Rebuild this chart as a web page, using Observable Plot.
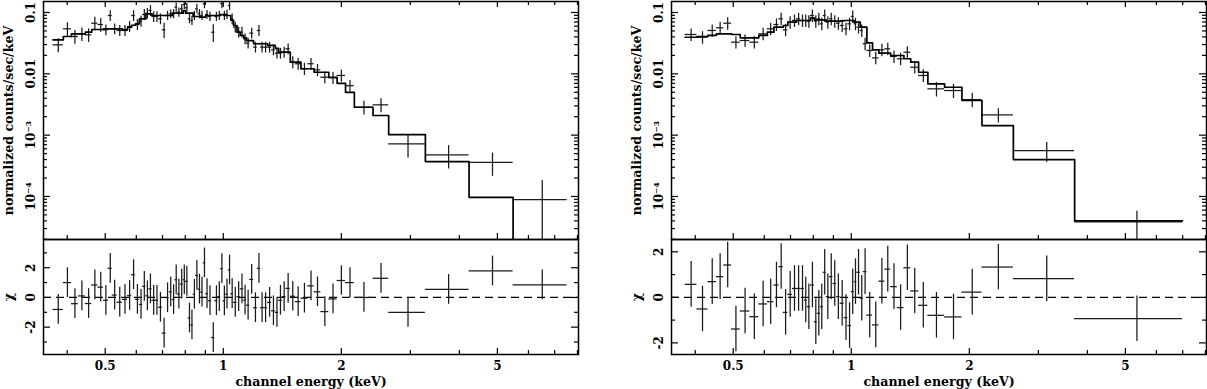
<!DOCTYPE html>
<html><head><meta charset="utf-8">
<script src="https://cdn.jsdelivr.net/npm/d3@7"></script>
<script src="https://cdn.jsdelivr.net/npm/@observablehq/plot@0.6"></script>
<style>
html,body{margin:0;padding:0;background:#fff;overflow:hidden}
#chart{position:relative;width:1207px;height:389px;background:#fff}
#chart svg{position:absolute;background:transparent;overflow:visible}
</style></head><body><div id="chart"></div>
<script>
// ---------- LEFT spectrum (bin edges in keV, flux, error, model, residual) ----------
const leftEdges = [0.368,0.391,0.410,0.427,0.445,0.462,0.479,0.495,0.509,0.521,
0.536,0.553,0.570,0.584,0.597,0.611,0.623,0.635,0.646,0.658,
0.671,0.684,0.699,0.714,0.728,0.741,0.753,0.764,0.777,0.790,
0.801,0.814,0.826,0.838,0.850,0.863,0.876,0.889,0.902,0.916,
0.934,0.952,0.969,0.985,0.999,1.014,1.030,1.045,1.062,1.084,
1.105,1.127,1.146,1.168,1.195,1.221,1.245,1.267,1.297,1.328,
1.357,1.384,1.414,1.445,1.482,1.526,1.578,1.643,1.705,1.773,
1.858,1.951,2.050,2.159,2.409,2.641,3.276,4.234,5.483,7.530];
const leftFlux = [0.0297,0.0542,0.0406,0.0449,0.0433,0.0669,0.0637,0.0522,0.0893,0.0542,
0.0509,0.0509,0.0591,0.0893,0.0637,0.0721,0.0928,0.0974,0.1078,0.0861,
0.0861,0.0789,0.0522,0.0893,0.0950,0.0952,0.1220,0.1011,0.1149,0.1351,
0.1193,0.0789,0.0741,0.0893,0.1149,0.0952,0.0893,0.1387,0.0930,0.0861,
0.0477,0.0861,0.0893,0.1387,0.0893,0.0928,0.1301,0.0789,0.0576,0.0477,
0.0477,0.0372,0.0316,0.0460,0.0272,0.0509,0.0272,0.0272,0.0272,0.0246,
0.0217,0.0217,0.0225,0.0256,0.0155,0.0146,0.0121,0.0146,0.0116,0.0088,
0.0086,0.0094,0.0064,0.00285,0.00312,0.000721,0.000477,0.000361,0.0000890];
const leftErr = [0.0077,0.0136,0.0102,0.0112,0.0108,0.0167,0.0159,0.0104,0.0179,0.0108,
0.0102,0.0102,0.0118,0.0179,0.0127,0.0144,0.0186,0.0195,0.0216,0.0172,
0.0172,0.0158,0.0145,0.0152,0.0152,0.0162,0.0207,0.0172,0.0195,0.0230,
0.0203,0.0134,0.0126,0.0152,0.0195,0.0162,0.0152,0.0236,0.0152,0.0146,
0.0154,0.0146,0.0152,0.0236,0.0152,0.0158,0.0221,0.0158,0.0115,0.0095,
0.0095,0.0074,0.0063,0.0092,0.0054,0.0102,0.0054,0.0054,0.0054,0.0049,
0.0043,0.0043,0.0045,0.0051,0.0034,0.0032,0.0027,0.0032,0.0026,0.0019,
0.0019,0.0021,0.0014,0.00071,0.0008,0.000296,0.000196,0.000148,0.0000925];
const leftModel = [0.0359,0.0406,0.0449,0.0449,0.0477,0.0528,0.0528,0.0542,0.0542,0.0542,
0.0542,0.0522,0.0576,0.0620,0.0654,0.0789,0.0789,0.0952,0.0952,0.0893,
0.0893,0.0893,0.0893,0.0893,0.0893,0.0974,0.0974,0.0974,0.0974,0.1078,
0.0974,0.0974,0.0974,0.0861,0.0861,0.0861,0.0838,0.0838,0.0893,0.0893,
0.0893,0.0893,0.0893,0.0928,0.0928,0.0893,0.0893,0.0750,0.0614,0.0477,
0.0422,0.0385,0.0349,0.0349,0.0309,0.0309,0.0309,0.0309,0.0290,0.0290,
0.0260,0.0225,0.0225,0.0225,0.0155,0.0155,0.0121,0.0121,0.0106,0.0106,
0.0088,0.0070,0.0050,0.00285,0.00209,0.00102,0.000371,0.000097,0.00001];
const leftChi = [-0.81,1.0,-0.42,0.1,-0.41,0.84,0.69,-0.19,1.96,0.16,
-0.32,-0.13,0.13,1.53,-0.13,-0.47,0.75,0.11,0.58,-0.19,
-0.19,-0.66,-2.4,-0.02,0.38,-0.14,1.19,0.22,0.9,1.19,
1.08,-1.38,-1.85,0.21,1.48,0.56,0.36,2.33,0.25,-0.22,
-2.7,-0.22,0.05,1.94,-0.23,0.22,1.85,0.25,-0.33,0.05,
0.58,-0.18,-0.52,1.21,-0.69,1.96,-0.69,-0.69,-0.33,-0.9,
-1.0,-0.19,0.05,0.61,0.08,-0.28,-0.05,0.78,0.38,-0.95,
-0.1,1.14,1.0,0.0,1.29,-1.01,0.54,1.78,0.85];

// ---------- RIGHT spectrum ----------
const rightEdges = [0.377,0.404,0.431,0.453,0.473,0.495,0.521,0.551,0.581,0.611,
0.635,0.654,0.671,0.689,0.708,0.725,0.743,0.759,0.772,0.787,
0.805,0.819,0.834,0.848,0.863,0.880,0.898,0.917,0.937,0.959,
0.980,1.000,1.017,1.033,1.054,1.073,1.096,1.133,1.176,1.218,
1.260,1.310,1.362,1.418,1.485,1.568,1.730,1.915,2.154,2.590,
3.712,6.989];
const rightFlux = [0.0438,0.0395,0.0509,0.0563,0.0669,0.0328,0.0349,0.0328,0.0449,0.0542,
0.0637,0.0789,0.0522,0.0695,0.0741,0.0789,0.0741,0.0741,0.0721,0.0893,
0.0721,0.0789,0.0654,0.0893,0.0695,0.0789,0.0721,0.0669,0.0614,0.0542,
0.0654,0.0861,0.0654,0.0576,0.0509,0.0309,0.0240,0.0182,0.0246,0.0256,
0.0192,0.0176,0.0225,0.0128,0.0094,0.00569,0.00534,0.0038,0.00214,0.000561,0.0000385];
const rightErr = [0.0101,0.0091,0.0117,0.0129,0.0154,0.0075,0.0080,0.0075,0.0103,0.0125,
0.0147,0.0181,0.0120,0.0160,0.0170,0.0181,0.0170,0.0170,0.0166,0.0205,
0.0166,0.0181,0.0150,0.0205,0.0160,0.0181,0.0166,0.0154,0.0141,0.0125,
0.0150,0.0198,0.0150,0.0132,0.0117,0.0071,0.0055,0.0042,0.0057,0.0059,
0.0044,0.0040,0.0052,0.0029,0.0022,0.0015,0.0014,0.0010,0.00056,0.00020,0.000019];
const rightModel = [0.0395,0.0406,0.0422,0.0449,0.0449,0.0438,0.0387,0.0387,0.0422,0.0477,
0.0576,0.0576,0.0614,0.0695,0.0695,0.0741,0.0741,0.0741,0.0741,0.0819,
0.0760,0.0760,0.0760,0.0760,0.0721,0.0721,0.0721,0.0721,0.0731,0.0741,
0.0741,0.0741,0.0695,0.0695,0.0576,0.0576,0.0320,0.0246,0.0217,0.0217,
0.0199,0.0199,0.0176,0.0155,0.0106,0.00687,0.00604,0.00367,0.00143,0.000400,0.0000400];
const rightChi = [0.57,-0.51,0.69,0.91,1.42,-1.39,-0.60,-0.85,-0.29,-0.19,
0.54,1.35,-0.66,0.13,0.39,0.39,0.39,-0.12,-0.41,0.54,
-1.07,-0.70,-0.41,1.10,0.03,0.91,0.61,0.03,-0.26,-0.89,
-1.24,0.25,0.69,1.10,-0.04,1.13,-0.78,-1.21,0.71,1.24,
0.47,-0.45,1.30,0.28,-0.35,-0.79,-0.86,0.23,1.33,0.82,-0.94];

// ---------- axes ----------
const energyDomain = [0.348, 8.05];
const fluxDomain = [1.988e-5, 0.1511];
const chiDomainLeft = [-3.84, 3.9];
const chiDomainRight = [-2.51, 2.54];
const xTickValues = [0.5, 1, 2, 5];
const xTickLabels = ["0.5", "1", "2", "5"];
const xMinorTicks = [0.4, 0.6, 0.7, 0.8, 0.9, 3, 4, 6, 7, 8];
const fluxTickValues = [0.1, 0.01, 0.001, 0.0001];
const fluxTickLabels = ["0.1", "0.01", "10⁻³", "10⁻⁴"];
const fluxMinorMult = [2, 3, 4, 5, 6, 7, 8, 9];
const fluxDecades = [1e-5, 1e-4, 1e-3, 1e-2];
const chiTickValues = [2, 0, -2];
const chiTickLabels = ["2", "0", "-2"];
const chiMinorLeft = [3, 1, -1, -3];
const chiMinorRight = [1, -1];
const yTitleTop = "normalized counts/sec/keV";
const yTitleBottom = "χ";
const xTitle = "channel energy (keV)";

const INK = "#000";
const FONT = "DejaVu Serif";
const txt = {fontFamily: FONT, fontWeight: "bold", fontSize: 12, fill: INK, textAnchor: "middle", lineAnchor: "middle"};
const ttl = {...txt, fontSize: 12.6};

function makeBins(edges, flux, err, model, chi) {
  return flux.map((f, i) => ({lo: edges[i], hi: edges[i + 1], mid: (edges[i] + edges[i + 1]) / 2,
    f, e: err[i], m: model[i], c: chi[i]}));
}

function xTicks(ih, top, bottom) {
  const m = [];
  if (bottom) {
    m.push(Plot.tickX(xTickValues, {x: d => d, insetTop: ih - 6, stroke: INK, strokeWidth: 1.2}));
    m.push(Plot.tickX(xMinorTicks, {x: d => d, insetTop: ih - 4, stroke: INK, strokeWidth: 1.2}));
  }
  if (top) {
    m.push(Plot.tickX(xTickValues, {x: d => d, insetBottom: ih - 6, stroke: INK, strokeWidth: 1.2}));
    m.push(Plot.tickX(xMinorTicks, {x: d => d, insetBottom: ih - 4, stroke: INK, strokeWidth: 1.2}));
  }
  return m;
}
function yTicks(iw, major, minor) {
  return [
    Plot.tickY(major, {y: d => d, insetRight: iw - 7, stroke: INK, strokeWidth: 1.2}),
    Plot.tickY(major, {y: d => d, insetLeft: iw - 7, stroke: INK, strokeWidth: 1.2}),
    Plot.tickY(minor, {y: d => d, insetRight: iw - 4, stroke: INK, strokeWidth: 1.2}),
    Plot.tickY(minor, {y: d => d, insetLeft: iw - 4, stroke: INK, strokeWidth: 1.2})
  ];
}

function topPlot(b, W, mL, mR) {
  const H = 240, mT = 1, mB = 1;
  const iw = W - mL - mR, ih = H - mT - mB;
  const last = b[b.length - 1];
  const steps = b.map(d => ({x: d.lo, y: d.m})).concat([{x: last.hi, y: last.m}]);
  const minor = fluxDecades.flatMap(d => fluxMinorMult.map(k => k * d));
  return Plot.plot({
    width: W, height: H, marginLeft: mL, marginRight: mR, marginTop: mT, marginBottom: mB,
    x: {type: "log", domain: energyDomain, axis: null},
    y: {type: "log", domain: fluxDomain, axis: null},
    style: {background: "transparent", overflow: "visible"},
    marks: [
      Plot.ruleY(b, {y: "f", x1: "lo", x2: "hi", stroke: "#1a1a1a", strokeWidth: 1.25, clip: true}),
      Plot.ruleX(b, {x: "mid", y1: d => Math.max(d.f - d.e, 1e-9), y2: d => d.f + d.e, stroke: "#1a1a1a", strokeWidth: 1.25, clip: true}),
      Plot.line(steps, {x: "x", y: "y", curve: "step-after", stroke: INK, strokeWidth: 1.7, clip: true}),
      ...xTicks(ih, true, true),
      ...yTicks(iw, fluxTickValues, minor),
      Plot.frame({stroke: INK, strokeWidth: 1.5}),
      Plot.text(fluxTickValues, {y: d => d, text: (d, i) => fluxTickLabels[i], frameAnchor: "left", dx: -12, rotate: -90, ...txt}),
      Plot.text([yTitleTop], {frameAnchor: "left", dx: -35, rotate: -90, ...ttl})
    ]
  });
}

function bottomPlot(b, W, mL, mR, chiDomain, chiMinor) {
  const H = 151, mT = 1, mB = 35;
  const iw = W - mL - mR, ih = H - mT - mB;
  return Plot.plot({
    width: W, height: H, marginLeft: mL, marginRight: mR, marginTop: mT, marginBottom: mB,
    x: {type: "log", domain: energyDomain, axis: null},
    y: {domain: chiDomain, axis: null},
    style: {background: "transparent", overflow: "visible"},
    marks: [
      Plot.ruleY([0], {stroke: INK, strokeWidth: 1.2, strokeDasharray: "8,5"}),
      Plot.ruleY(b, {y: "c", x1: "lo", x2: "hi", stroke: "#1a1a1a", strokeWidth: 1.25, clip: true}),
      Plot.ruleX(b, {x: "mid", y1: d => d.c - 1, y2: d => d.c + 1, stroke: "#1a1a1a", strokeWidth: 1.25, clip: true}),
      ...xTicks(ih, false, true),
      ...yTicks(iw, chiTickValues, chiMinor),
      Plot.frame({stroke: INK, strokeWidth: 1.5}),
      Plot.text(chiTickValues, {y: d => d, text: (d, i) => chiTickLabels[i], frameAnchor: "left", dx: -12, rotate: -90, ...txt}),
      Plot.text([yTitleBottom], {frameAnchor: "left", dx: -35, rotate: -90, ...ttl}),
      Plot.text(xTickValues, {x: d => d, text: (d, i) => xTickLabels[i], frameAnchor: "bottom", dy: 12, ...txt}),
      Plot.text([xTitle], {frameAnchor: "bottom", dy: 27, ...ttl})
    ]
  });
}

const leftBins = makeBins(leftEdges, leftFlux, leftErr, leftModel, leftChi);
const rightBins = makeBins(rightEdges, rightFlux, rightErr, rightModel, rightChi);
const chart = document.getElementById("chart");
function place(svg, left, top) { svg.style.left = left + "px"; svg.style.top = top + "px"; chart.appendChild(svg); }
place(topPlot(leftBins, 590, 43, 12), 0, 0);
place(bottomPlot(leftBins, 590, 43, 12, chiDomainLeft, chiMinorLeft), 0, 238);
place(topPlot(rightBins, 579, 43, 1), 628, 0);
place(bottomPlot(rightBins, 579, 43, 1, chiDomainRight, chiMinorRight), 628, 238);
</script></body></html>
